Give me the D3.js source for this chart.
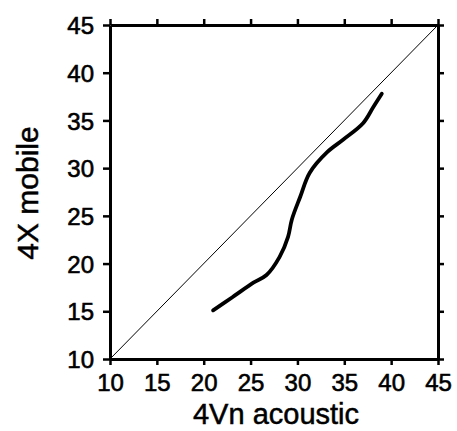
<!DOCTYPE html>
<html>
<head>
<meta charset="utf-8">
<script src="https://cdn.jsdelivr.net/npm/d3@7"></script>
<style>
  body { margin: 0; background: #fff; }
  svg text { font-family: "Liberation Sans", Arial, Helvetica, sans-serif; fill: #000; }
</style>
</head>
<body>
<div id="chart"></div>
<script>
// curve
var acoustic = [21.0, 23.1, 25.3, 26.7, 28.1, 29.0, 29.4, 30.3, 31.3, 33.2, 34.9, 37.0, 38.1, 39.0]
var mobile   = [15.1, 16.5, 18.0, 18.8, 20.7, 22.8, 24.6, 27.0, 29.5, 31.7, 33.0, 34.7, 36.4, 37.8]
var tickVals = [10, 15, 20, 25, 30, 35, 40, 45]
var domainLo = 10, domainHi = 45

var width = 457, height = 431
var margin = {top: 25, right: 19, bottom: 72, left: 110}

var svg = d3.select("#chart").append("svg")
  .attr("width", width)
  .attr("height", height)

var x = d3.scaleLinear().domain([domainLo, domainHi]).range([margin.left, width - margin.right])
var y = d3.scaleLinear().domain([domainLo, domainHi]).range([height - margin.bottom, margin.top])

//axes, ticks outward on all four sides
var bottomAxis = svg.append("g")
  .attr("transform", "translate(0," + y(domainLo) + ")")
  .call(d3.axisBottom(x).tickValues(tickVals).tickSize(6).tickPadding(8).tickSizeOuter(0))
var topAxis = svg.append("g")
  .attr("transform", "translate(0," + y(domainHi) + ")")
  .call(d3.axisTop(x).tickValues(tickVals).tickSize(6).tickFormat("").tickSizeOuter(0))
var leftAxis = svg.append("g")
  .attr("transform", "translate(" + x(domainLo) + ",0)")
  .call(d3.axisLeft(y).tickValues(tickVals).tickSize(7).tickPadding(9).tickSizeOuter(0))
var rightAxis = svg.append("g")
  .attr("transform", "translate(" + x(domainHi) + ",0)")
  .call(d3.axisRight(y).tickValues(tickVals).tickSize(6).tickFormat("").tickSizeOuter(0))

svg.selectAll(".domain").attr("stroke", "#000").attr("stroke-width", 3)
svg.selectAll(".tick line").attr("stroke", "#000").attr("stroke-width", 2.5)
svg.selectAll(".tick text").attr("font-size", 24).attr("fill", "#000")
  .attr("stroke", "#000").attr("stroke-width", 0.6)
bottomAxis.selectAll(".tick text").attr("dy", "0.75em")
leftAxis.selectAll(".tick text").attr("dy", "0.36em")

// 1:1 line
svg.append("line")
  .attr("x1", x(domainLo)).attr("y1", y(domainLo))
  .attr("x2", x(domainHi)).attr("y2", y(domainHi))
  .attr("stroke", "#000")
  .attr("stroke-width", 1)

var pts = acoustic.map(function(d, i) { return [d, mobile[i]] })

var line = d3.line()
  .x(function(d) { return x(d[0]) })
  .y(function(d) { return y(d[1]) })
  .curve(d3.curveCatmullRom)

svg.append("path")
  .datum(pts)
  .attr("d", line)
  .attr("fill", "none")
  .attr("stroke", "#000")
  .attr("stroke-width", 3.8)
  .attr("stroke-linecap", "round")

// axis titles
svg.append("text")
  .attr("x", 276)
  .attr("y", 424)
  .attr("text-anchor", "middle")
  .attr("font-size", 29)
  .attr("stroke", "#000").attr("stroke-width", 0.5)
  .text("4Vn acoustic")

svg.append("text")
  .attr("transform", "translate(38,193) rotate(-90)")
  .attr("text-anchor", "middle")
  .attr("font-size", 30)
  .attr("stroke", "#000").attr("stroke-width", 0.5)
  .text("4X mobile")
</script>
</body>
</html>
